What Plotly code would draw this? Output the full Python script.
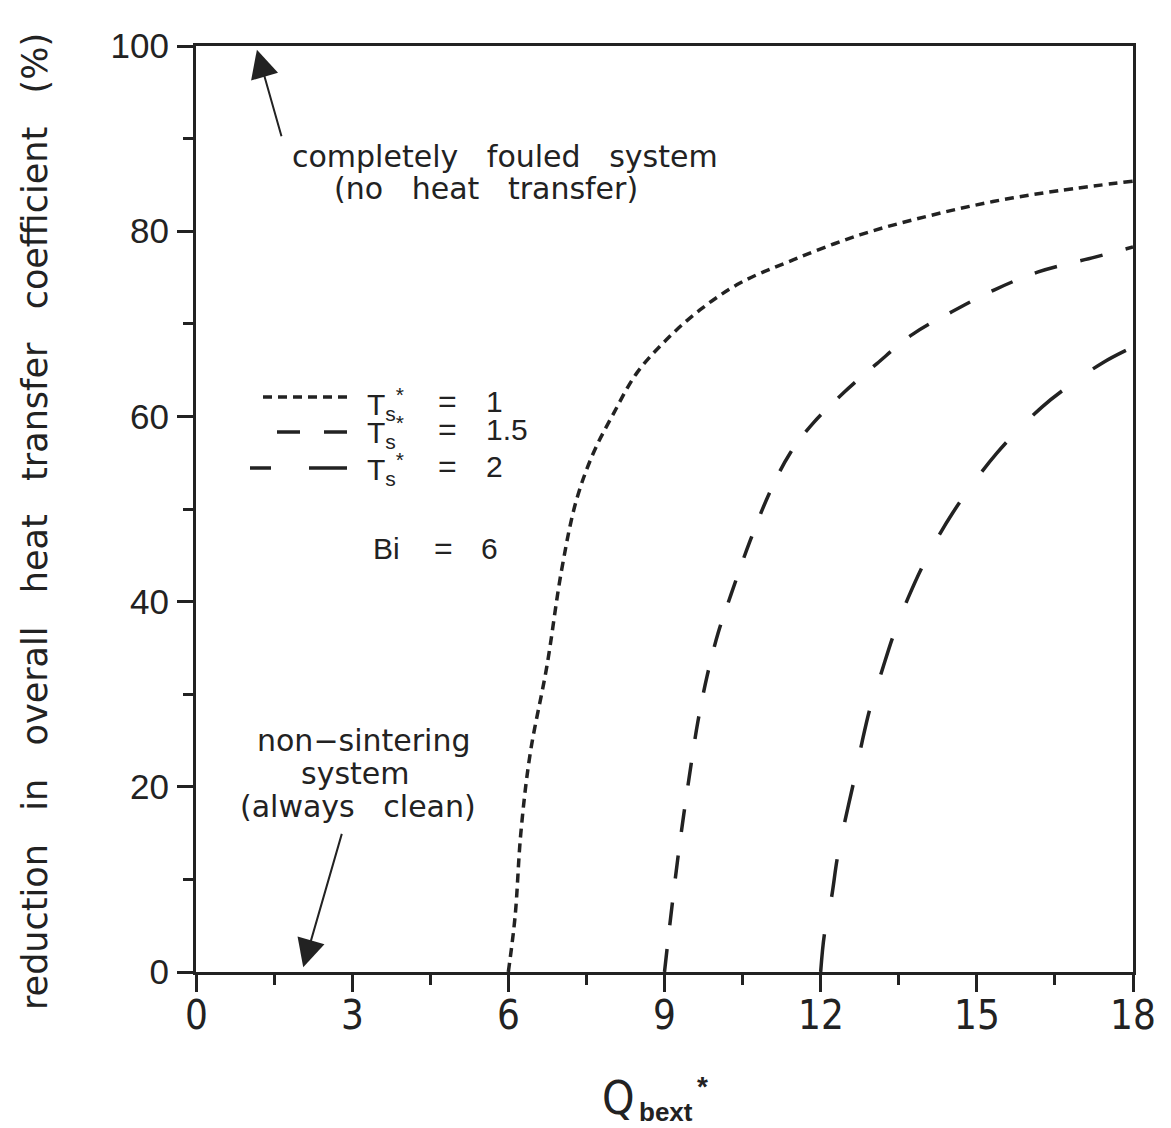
import plotly.graph_objects as go

# Reduction in overall heat transfer coefficient vs dimensionless external heat flux
# for three dimensionless sintering temperatures (Bi = 6)
ts1_x = [6.0, 6.13, 6.24, 6.42, 6.74, 7.02, 7.3, 7.63, 8.02, 8.47, 9.04, 9.68,
         10.45, 11.47, 12.75, 14.04, 15.31, 16.6, 18.0]
ts1_y = [0, 6, 15, 23.6, 33, 43.3, 50.8, 56.0, 60.3, 64.7, 68.3, 71.5,
         74.4, 76.9, 79.6, 81.6, 83.2, 84.4, 85.4]

ts15_x = [9.0, 9.1, 9.25, 9.37, 9.5, 9.64, 9.82, 10.03, 10.28, 10.64, 11.03, 11.41,
          11.86, 12.43, 13.08, 13.75, 14.52, 15.35, 16.18, 17.27, 18.0]
ts15_y = [0, 5, 12, 17, 22, 27, 32, 36.6, 40.8, 46.5, 51.9, 56.0,
          59.3, 62.5, 65.7, 68.8, 71.3, 73.7, 75.6, 77.2, 78.3]

ts2_x = [12.0, 12.07, 12.21, 12.32, 12.47, 12.63, 12.79, 12.95, 13.17, 13.4, 13.68,
         14.0, 14.55, 15.38, 16.25, 16.82, 17.42, 18.0]
ts2_y = [0, 4, 8.1, 12.3, 16.4, 20.4, 24.7, 28.5, 32.4, 36.4, 40.4,
         44.3, 49.7, 56.0, 61.0, 63.5, 65.8, 67.5]

x_ticks = [0, 3, 6, 9, 12, 15, 18]
y_ticks = [0, 20, 40, 60, 80, 100]

INK = "#222222"
LW = 3.5
DASH_TS1 = "9px,6px"
DASH_TS15 = "23px,24px"
DASH_TS2 = "38px,38px"

# plot-area geometry in page pixels
L, R, T, B = 196, 1133, 46, 972


def fx(p):
    return (p - L) / (R - L)


def fy(p):
    return (B - p) / (B - T)


fig = go.Figure()
for xs, ys, dash in [(ts1_x, ts1_y, DASH_TS1),
                     (ts15_x, ts15_y, DASH_TS15),
                     (ts2_x, ts2_y, DASH_TS2)]:
    fig.add_trace(go.Scatter(x=xs, y=ys, mode="lines",
                             line=dict(color=INK, width=LW, dash=dash,
                                       shape="spline", smoothing=1.0),
                             showlegend=False, hoverinfo="skip"))

ann_font = dict(family="DejaVu Sans", size=30, color=INK)
leg_font = dict(family="Liberation Sans", size=30, color=INK)
sp = "\u00a0" * 3
sp_t = "\u00a0" * 3

annotations = [
    # axis titles
    dict(text="reduction" + sp_t + "in" + sp_t + "overall" + sp_t + "heat" + sp_t +
              "transfer" + sp_t + "coefficient" + sp_t + "(%)",
         xref="paper", yref="paper", x=fx(35), y=fy(522), textangle=-90,
         showarrow=False, xanchor="center", yanchor="middle",
         font=dict(family="DejaVu Sans", size=35, color=INK)),
    dict(text="Q", xref="paper", yref="paper", x=fx(618), y=fy(1098),
         showarrow=False, xanchor="center", yanchor="middle",
         font=dict(family="Liberation Sans Narrow, DejaVu Sans Condensed, sans-serif",
                   size=46, color=INK)),
    dict(text="<b>bext</b>", xref="paper", yref="paper", x=fx(637), y=fy(1112),
         showarrow=False, xanchor="left", yanchor="middle",
         font=dict(family="Liberation Sans", size=26, color=INK)),
    dict(text="<b>*</b>", xref="paper", yref="paper", x=fx(702), y=fy(1086),
         showarrow=False, xanchor="center", yanchor="middle",
         font=dict(family="Liberation Sans", size=28, color=INK)),
    # callouts
    dict(text="completely" + sp + "fouled" + sp + "system", xref="paper", yref="paper",
         x=fx(505), y=fy(156), showarrow=False, xanchor="center", yanchor="middle",
         font=ann_font),
    dict(text="(no" + sp + "heat" + sp + "transfer)", xref="paper", yref="paper",
         x=fx(486), y=fy(189), showarrow=False, xanchor="center", yanchor="middle",
         font=ann_font),
    dict(text="non\u2212sintering", xref="paper", yref="paper",
         x=fx(363), y=fy(740), showarrow=False, xanchor="center", yanchor="middle",
         font=ann_font),
    dict(text="system", xref="paper", yref="paper",
         x=fx(355), y=fy(773), showarrow=False, xanchor="center", yanchor="middle",
         font=ann_font),
    dict(text="(always" + sp + "clean)", xref="paper", yref="paper",
         x=fx(358), y=fy(806), showarrow=False, xanchor="center", yanchor="middle",
         font=ann_font),
    # arrows
    dict(x=1.17, y=99.6, xref="x", yref="y", ax=25, ay=88, text="",
         showarrow=True, arrowhead=2, arrowsize=2.8, arrowwidth=2.0,
         arrowcolor=INK),
    dict(x=2.06, y=0.5, xref="x", yref="y", ax=39, ay=-135, text="",
         showarrow=True, arrowhead=2, arrowsize=2.8, arrowwidth=2.0,
         arrowcolor=INK),
    # parameter note
    dict(text="Bi", xref="paper", yref="paper", x=fx(371), y=fy(548),
         showarrow=False, xanchor="left", yanchor="middle", font=leg_font),
    dict(text="=", xref="paper", yref="paper", x=fx(443), y=fy(548),
         showarrow=False, xanchor="center", yanchor="middle",
         font=dict(family="Liberation Sans", size=32, color=INK)),
    dict(text="6", xref="paper", yref="paper", x=fx(479), y=fy(548),
         showarrow=False, xanchor="left", yanchor="middle", font=leg_font),
]

# x tick labels placed just under the tick marks
for v in x_ticks:
    annotations.append(dict(text=str(v), xref="x", yref="paper", x=v, y=fy(1015),
                            showarrow=False, xanchor="center", yanchor="middle",
                            font=dict(family="Liberation Sans Narrow, DejaVu Sans Condensed, sans-serif",
                                      size=40, color=INK)))

# legend rows: line sample, label, value
legend_rows = [
    (404, 397, 258, DASH_TS1, "1"),
    (432, 432, 275, DASH_TS15, "1.5"),
    (469, 468, 250, DASH_TS2, "2"),
]
shapes = []
for ty, ly, lx0, dash, val in legend_rows:
    shapes.append(dict(type="line", xref="paper", yref="paper",
                       x0=fx(347), x1=fx(lx0), y0=fy(ly), y1=fy(ly),
                       line=dict(color=INK, width=LW, dash=dash)))
    annotations.append(dict(text="T<sub>s</sub><sup>*</sup>", xref="paper", yref="paper",
                            x=fx(365), y=fy(ty), showarrow=False,
                            xanchor="left", yanchor="middle", font=leg_font))
    annotations.append(dict(text="=", xref="paper", yref="paper",
                            x=fx(447), y=fy(ty - 3), showarrow=False,
                            xanchor="center", yanchor="middle",
                            font=dict(family="Liberation Sans", size=32, color=INK)))
    annotations.append(dict(text=val, xref="paper", yref="paper",
                            x=fx(484), y=fy(ty - 3), showarrow=False,
                            xanchor="left", yanchor="middle", font=leg_font))

fig.update_layout(
    width=1171, height=1128, autosize=False,
    margin=dict(l=L, r=1171 - R, t=T, b=1128 - B, pad=0),
    paper_bgcolor="white", plot_bgcolor="white",
    showlegend=False,
    annotations=annotations,
    shapes=shapes,
    xaxis=dict(range=[0, 18], tickmode="array", tickvals=x_ticks,
               showticklabels=False,
               ticks="outside", ticklen=17, tickwidth=2.5, tickcolor=INK,
               showline=True, linewidth=3, linecolor=INK, mirror=True,
               showgrid=False, zeroline=False,
               minor=dict(tickmode="linear", tick0=0, dtick=1.5, ticks="outside",
                          ticklen=10, tickwidth=2.5, tickcolor=INK, showgrid=False)),
    yaxis=dict(range=[0, 100], tickmode="array", tickvals=y_ticks,
               ticktext=[str(v) for v in y_ticks],
               ticks="outside", ticklen=16, tickwidth=2.5, tickcolor=INK,
               showline=True, linewidth=3, linecolor=INK, mirror=True,
               showgrid=False, zeroline=False, ticklabelstandoff=1,
               tickfont=dict(family="Liberation Sans", size=35, color=INK),
               minor=dict(tickmode="linear", tick0=0, dtick=10, ticks="outside",
                          ticklen=10, tickwidth=2.5, tickcolor=INK, showgrid=False)),
)

fig.write_html("out.html")
